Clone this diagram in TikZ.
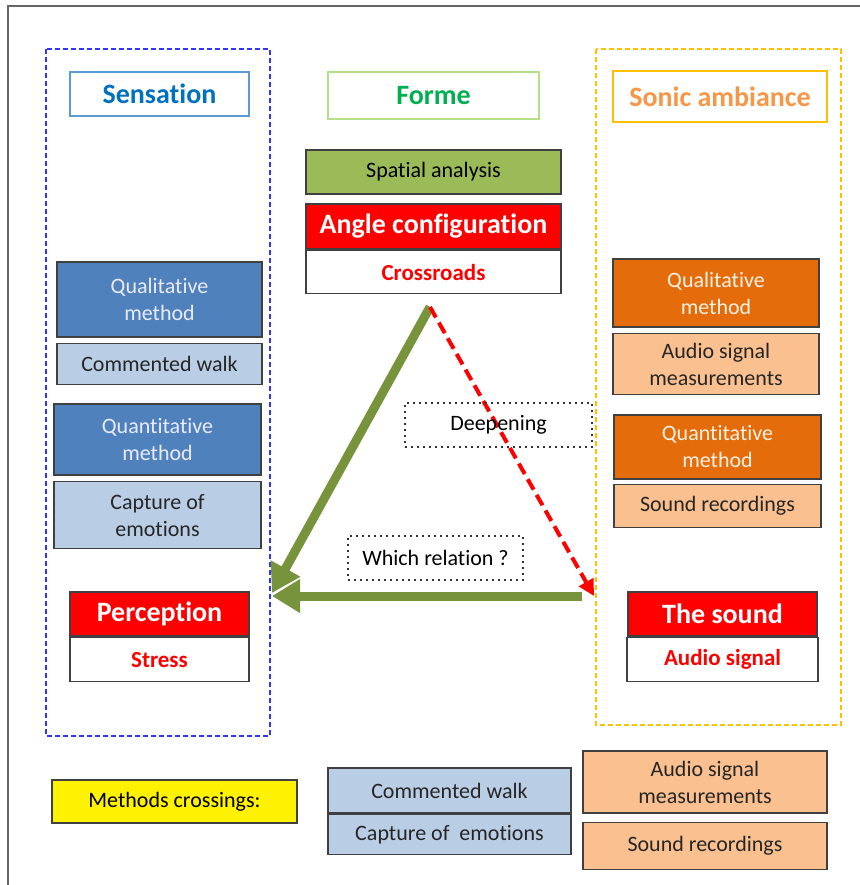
\documentclass[tikz,border=0pt]{standalone}
\usepackage{fontspec}
\setmainfont{Carlito}[Ligatures=NoCommon]
\usepackage{tikz}
\usetikzlibrary{positioning,arrows.meta}
\definecolor{sensblue}{HTML}{0070C0}
\definecolor{sensline}{HTML}{5B9BD5}
\definecolor{formegreen}{HTML}{00B050}
\definecolor{formeline}{HTML}{B5E08A}
\definecolor{sonicorange}{HTML}{F79646}
\definecolor{sonicline}{HTML}{FFC000}
\definecolor{methblue}{HTML}{4F81BD}
\definecolor{paleblue}{HTML}{B9CDE5}
\definecolor{methorange}{HTML}{E46C0A}
\definecolor{paleorange}{HTML}{FAC090}
\definecolor{spatgreen}{HTML}{9BBB59}
\definecolor{arrowgreen}{HTML}{77933C}
\definecolor{zoneblue}{HTML}{3333FF}
\tikzstyle{box} = [rectangle, draw=black!75, line width=0.8pt, align=center,
    inner sep=0pt, font=\fontsize{11}{13.5}\selectfont]
\tikzstyle{titlebox} = [rectangle, line width=0.9pt, fill=white, inner sep=0pt,
    font=\fontsize{14}{16}\selectfont\bfseries]
\tikzstyle{darkblue} = [box, fill=methblue, text=blue!8]
\tikzstyle{lightblue} = [box, fill=paleblue, text=black!85]
\tikzstyle{darkorange} = [box, fill=methorange, text=orange!10]
\tikzstyle{lightorange} = [box, fill=paleorange, text=black!85]
\tikzstyle{headbox} = [box, fill=red, text=white, font=\fontsize{14}{16}\selectfont\bfseries]
\tikzstyle{subbox} = [box, fill=white, text=red, font=\fontsize{11.5}{13.5}\selectfont\bfseries]
\tikzstyle{note} = [rectangle, draw=black!80, dotted, line width=1pt, inner sep=0pt,
    font=\fontsize{11}{13.5}\selectfont]
\tikzstyle{zone} = [line width=1pt, dash pattern=on 2.5pt off 1.5pt]
\tikzstyle{greenline} = [draw=arrowgreen, line width=4.5pt,
    -{Triangle[length=14pt,width=16pt]}]
\tikzstyle{redline} = [draw=red, line width=2pt, dash pattern=on 6pt off 3pt,
    -{Triangle[length=8pt,width=8pt]}]

\begin{document}
\begin{tikzpicture}[x=0.5pt, y=-0.5pt, node distance=2.5pt]
    \useasboundingbox (0,0) rectangle (859,885);
    \draw [black!60, line width=1.2pt] (8,900) -- (8,6) -- (870,6);
    \draw [zone, zoneblue] (46,49) rectangle (270,736);
    \draw [zone, sonicline] (596,49) rectangle (841,725);

    % Place nodes
    \node [titlebox, draw=sensline, text=sensblue, minimum width=89.5pt, minimum height=22pt] (sensation) at (159.5,94) {Sensation};
    \node [titlebox, draw=formeline, text=formegreen, minimum width=105.5pt, minimum height=23.5pt] (forme) at (433.5,95.5) {Forme};
    \node [titlebox, draw=sonicline, text=sonicorange, minimum width=107pt, minimum height=25.5pt] (sonic) at (720,96.5) {Sonic ambiance};

    \node [box, fill=spatgreen, minimum width=127.5pt, minimum height=22pt] (spatial) at (433.5,172) {Spatial analysis};
    \node [headbox, minimum width=127.5pt, minimum height=22.5pt] (angle) at (433.5,226.5) {Angle configuration};
    \node [subbox, minimum width=127.5pt, minimum height=21.5pt, below=0pt of angle] (crossroads) {Crossroads};

    \node [darkblue, minimum width=102.5pt, minimum height=37.5pt] (qualL) at (159.5,299.5) {Qualitative\\method};
    \node [lightblue, minimum width=102.5pt, minimum height=20.5pt, below=of qualL] (walkL) {Commented walk};
    \node [darkblue, minimum width=103.5pt, minimum height=35.5pt] (quantL) at (157.5,439.5) {Quantitative\\method};
    \node [lightblue, minimum width=103.5pt, minimum height=33.5pt, below=of quantL] (emotionsL) {Capture of\\emotions};
    \node [headbox, minimum width=89.5pt, minimum height=22pt] (perception) at (159.5,614) {Perception};
    \node [subbox, minimum width=89.5pt, minimum height=22pt, below=0pt of perception] (stress) {Stress};

    \node [darkorange, minimum width=103pt, minimum height=34pt] (qualR) at (716,293) {Qualitative\\method};
    \node [lightorange, minimum width=103pt, minimum height=30.5pt, below=of qualR] (audioR) {Audio signal\\measurements};
    \node [darkorange, minimum width=103.5pt, minimum height=32pt] (quantR) at (717.5,447) {Quantitative\\method};
    \node [lightorange, minimum width=103.5pt, minimum height=21.5pt, below=2pt of quantR] (soundR) {Sound recordings};
    \node [headbox, minimum width=94.5pt, minimum height=22pt] (thesound) at (722.5,614) {The sound};
    \node [subbox, minimum width=95.5pt, minimum height=22pt, below=0pt of thesound] (signal) {Audio signal};

    \node [box, fill=yellow, minimum width=122.5pt, minimum height=21.5pt] (crossings) at (174.5,801.5) {Methods crossings:};
    \node [lightblue, minimum width=121.5pt, minimum height=22.5pt] (walkB) at (449.5,790.5) {Commented walk};
    \node [lightblue, minimum width=121.5pt, minimum height=20pt, below=0pt of walkB] (emotionsB) {Capture of \ emotions};
    \node [lightorange, minimum width=122pt, minimum height=31pt] (audioB) at (705,782) {Audio signal\\measurements};
    \node [lightorange, minimum width=122pt, minimum height=23.5pt, below=4pt of audioB] (soundB) {Sound recordings};

    % Triangle
    \coordinate (apex) at (430,307);
    \coordinate (leftcorner) at (272,593);
    \coordinate (rightcorner) at (594,596);
    \coordinate (greenstart) at (582,596);
    \draw [greenline] (apex) -- (leftcorner);
    \draw [greenline] (greenstart) -- (leftcorner |- greenstart);
    \draw [redline] (apex) -- (rightcorner);

    \node [note, minimum width=93.5pt, minimum height=22pt] (deepening) at (498.5,425) {Deepening};
    \node [note, minimum width=87.5pt, minimum height=22pt] (relation) at (435.5,558) {Which relation ?};
\end{tikzpicture}
\end{document}
